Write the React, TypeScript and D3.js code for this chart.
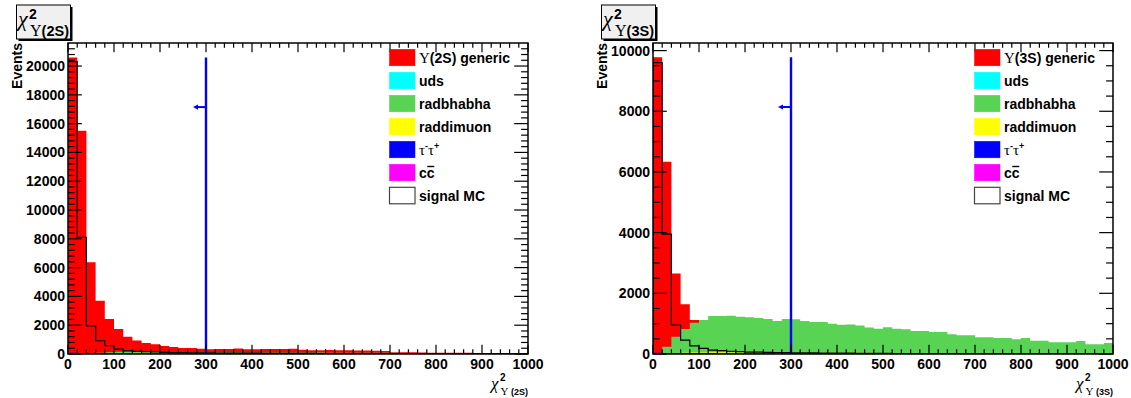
import React from 'react';
import * as d3 from 'd3';

// ---------- data ----------
const binLow = d3.range(0, 1000, 20); // 50 bins of width 20 in chi^2
const xTickLabels = ['0', '100', '200', '300', '400', '500', '600', '700', '800', '900', '1000'];
const yTicks2S = [0, 2000, 4000, 6000, 8000, 10000, 12000, 14000, 16000, 18000, 20000];
const yTicks3S = [0, 2000, 4000, 6000, 8000, 10000];

// Upsilon(2S) sample
const generic2S = [20600, 15500, 6380, 3690, 2430, 1740, 1190, 930, 770, 680, 555, 490, 420, 420, 370,
  330, 345, 345, 390, 330, 330, 345, 345, 345, 370, 300, 260, 260, 275, 255, 255, 250, 240, 230, 215,
  120, 125, 125, 100, 95, 95, 90, 85, 80, 75, 60, 55, 50, 50, 45];
const uds2S = [10, 8, 6, 4, 3, 2, 2, 1, 1, 1, 1, 1, 0, 0, 0, 0, 0, 0, 0, 0, 0, 0, 0, 0, 0,
  0, 0, 0, 0, 0, 0, 0, 0, 0, 0, 0, 0, 0, 0, 0, 0, 0, 0, 0, 0, 0, 0, 0, 0, 0];
const radbhabha2S = [0, 30, 60, 90, 120, 150, 160, 160, 150, 150, 140, 140, 130, 130, 130, 120, 120, 120, 120, 110,
  110, 110, 110, 100, 100, 100, 100, 100, 90, 90, 90, 90, 90, 85, 85, 80, 75, 75, 70, 70,
  65, 65, 60, 60, 55, 55, 55, 50, 50, 50];
const raddimuon2S = [0, 2, 4, 6, 8, 8, 9, 9, 9, 8, 8, 8, 7, 7, 7, 6, 6, 6, 6, 5, 5, 5, 5, 5, 4,
  4, 4, 4, 4, 3, 3, 3, 3, 3, 3, 2, 2, 2, 2, 2, 2, 2, 2, 1, 1, 1, 1, 1, 1, 1];
const tautau2S = [80, 70, 55, 45, 38, 32, 28, 24, 20, 18, 16, 14, 12, 11, 10, 9, 9, 8, 8, 7, 7, 6, 6, 6, 5,
  5, 5, 5, 4, 4, 4, 4, 4, 3, 3, 3, 3, 3, 3, 2, 2, 2, 2, 2, 2, 2, 1, 1, 1, 1];
const ccbar2S = [6, 5, 4, 3, 2, 2, 2, 1, 1, 1, 1, 1, 1, 0, 0, 0, 0, 0, 0, 0, 0, 0, 0, 0, 0,
  0, 0, 0, 0, 0, 0, 0, 0, 0, 0, 0, 0, 0, 0, 0, 0, 0, 0, 0, 0, 0, 0, 0, 0, 0];
const signal2S = [20300, 8100, 1950, 920, 580, 340, 230, 185, 160, 140, 110, 95, 90, 85, 80, 75, 70, 65, 60, 60,
  55, 50, 50, 45, 45, 40, 40, 35, 35, 35, 30, 30, 30, 25, 25, 25, 20, 20, 20, 20,
  15, 15, 15, 15, 15, 10, 10, 10, 10, 10];

// Upsilon(3S) sample
const generic3S = [9780, 6340, 2650, 1640, 1120, 880, 710, 590, 530, 470, 445, 410, 395, 370, 365, 340, 330, 335, 310, 300,
  290, 285, 270, 265, 250, 245, 235, 220, 215, 205, 200, 185, 180, 170, 160, 150, 145, 130, 125, 110,
  105, 95, 90, 88, 80, 72, 70, 64, 60, 52];
const uds3S = [8, 6, 5, 4, 3, 2, 2, 1, 1, 1, 1, 1, 0, 0, 0, 0, 0, 0, 0, 0, 0, 0, 0, 0, 0,
  0, 0, 0, 0, 0, 0, 0, 0, 0, 0, 0, 0, 0, 0, 0, 0, 0, 0, 0, 0, 0, 0, 0, 0, 0];
const radbhabha3S = [0, 242, 571, 824, 1033, 1120, 1252, 1252, 1263, 1230, 1208, 1186, 1153, 1087, 1153, 1142, 1087, 1054, 1054, 1000,
  966, 975, 940, 870, 834, 878, 834, 813, 758, 758, 725, 725, 648, 615, 615, 549, 549, 527, 527, 483,
  527, 439, 439, 384, 384, 384, 428, 318, 318, 362];
const raddimuon3S = [0, 10, 30, 45, 50, 52, 55, 55, 50, 52, 50, 48, 50, 46, 48, 45, 44, 45, 42, 40, 42, 40, 38, 38, 36,
  34, 22, 20, 20, 18, 18, 16, 16, 15, 15, 14, 14, 12, 12, 12, 10, 10, 10, 9, 9, 8, 8, 8, 7, 7];
const tautau3S = [40, 35, 30, 26, 24, 22, 22, 20, 20, 19, 18, 18, 17, 17, 16, 16, 15, 15, 15, 14, 14, 14, 13, 13, 13,
  25, 24, 23, 22, 22, 21, 20, 20, 19, 19, 18, 18, 17, 17, 16, 16, 15, 15, 15, 14, 14, 13, 13, 13, 12];
const ccbar3S = [5, 4, 3, 3, 2, 2, 1, 1, 1, 1, 1, 0, 0, 0, 0, 0, 0, 0, 0, 0, 0, 0, 0, 0, 0,
  0, 0, 0, 0, 0, 0, 0, 0, 0, 0, 0, 0, 0, 0, 0, 0, 0, 0, 0, 0, 0, 0, 0, 0, 0];
const signal3S = [9600, 3950, 955, 460, 265, 185, 130, 110, 90, 75, 65, 60, 55, 50, 45, 40, 38, 35, 32, 30,
  28, 26, 24, 22, 20, 18, 17, 16, 15, 14, 13, 12, 11, 10, 10, 9, 9, 8, 8, 7,
  7, 6, 6, 5, 5, 5, 4, 4, 4, 3];

const cutValue = 300;
const cutTop = [20600, 9780];
const arrowLevel = [17150, 8140];
const yMaxes = [21600, 10250];
const yMinorSteps = [400, 500];

const legendColors = ['#ff0000', '#00ffff', '#59d354', '#ffff00', '#0000ff', '#ff00ff', '#ffffff'];

// ---------- drawing ----------
const SANS = '"Liberation Sans", Arial, Helvetica, sans-serif';
const SERIF = '"Liberation Serif", "DejaVu Serif", serif';
const FW = 460;
const FH = 311;

type PanelProps = {
  idx: number;
  fx: number;
  fy: number;
  state: string;
  series: number[][];
  signal: number[];
  yTicks: number[];
};

function Panel({ idx, fx, fy, state, series, signal, yTicks }: PanelProps) {
  const yMax = yMaxes[idx];
  const xs = d3.scaleLinear().domain([0, 1000]).range([fx, fx + FW]);
  const ys = d3.scaleLinear().domain([0, yMax]).range([fy + FH, fy]);
  const clipId = `clip${idx}`;

  const pts = (vals: number[]) => {
    const p: [number, number][] = binLow.map((lo, i) => [lo, vals[i]]);
    p.push([1000, vals[vals.length - 1]]);
    return p;
  };
  const area = d3
    .area<[number, number]>()
    .x((d) => xs(d[0]))
    .y0(ys(0))
    .y1((d) => ys(Math.min(d[1], yMax)))
    .curve(d3.curveStepAfter);
  const line = d3
    .line<[number, number]>()
    .x((d) => xs(d[0]))
    .y((d) => ys(Math.min(d[1], yMax)))
    .curve(d3.curveStepAfter);
  const sigPts: [number, number][] = [[0, 0], ...pts(signal), [1000, 0]];

  const xMajor = d3.range(0, 1001, 100);
  const xMinor = d3.range(0, 1001, 20).filter((v) => v % 100 !== 0);
  const yMinor = d3.range(0, yMax, yMinorSteps[idx]).filter((v) => v % 2000 !== 0);
  const xMajLen = 9.3;
  const yMajLen = 13.8;

  const lx = fx + FW - 138.5;
  const rowTop = (i: number) => fy + 6.3 + i * 23;

  const bx = fx - 51.5;
  const by = 5;

  const xCut = xs(cutValue);
  const yArrow = ys(arrowLevel[idx]);

  return (
    <g>
      <defs>
        <clipPath id={clipId}>
          <rect x={fx} y={fy} width={FW} height={FH} />
        </clipPath>
      </defs>
      <g clipPath={`url(#${clipId})`}>
        {series.map((s, i) => (
          <path key={i} d={area(pts(s)) || ''} fill={legendColors[i]} stroke="none" />
        ))}
        <path d={line(sigPts) || ''} fill="none" stroke="#000" strokeWidth={1.2} />
      </g>

      {/* cut line and arrow */}
      <line x1={xCut} x2={xCut} y1={ys(0)} y2={ys(cutTop[idx])} stroke="#0000ff" strokeWidth={2.4} />
      <line x1={xCut} x2={xCut - 9} y1={yArrow} y2={yArrow} stroke="#0000ff" strokeWidth={2} />
      <path
        d={`M${xCut - 13},${yArrow} L${xCut - 8},${yArrow - 2.6} L${xCut - 8},${yArrow + 2.6} Z`}
        fill="#0000ff"
      />

      {/* frame */}
      <rect x={fx} y={fy} width={FW} height={FH} fill="none" stroke="#000" strokeWidth={1.5} />

      {/* x ticks bottom & top */}
      {xMajor.map((v) => (
        <g key={'xm' + v}>
          <line x1={xs(v)} x2={xs(v)} y1={fy + FH} y2={fy + FH - xMajLen} stroke="#000" strokeWidth={1.2} />
          <line x1={xs(v)} x2={xs(v)} y1={fy} y2={fy + xMajLen} stroke="#000" strokeWidth={1.2} />
        </g>
      ))}
      {xMinor.map((v) => (
        <g key={'xn' + v}>
          <line x1={xs(v)} x2={xs(v)} y1={fy + FH} y2={fy + FH - xMajLen / 2} stroke="#000" strokeWidth={1.2} />
          <line x1={xs(v)} x2={xs(v)} y1={fy} y2={fy + xMajLen / 2} stroke="#000" strokeWidth={1.2} />
        </g>
      ))}
      {/* y ticks left & right */}
      {yTicks.map((v) => (
        <g key={'ym' + v}>
          <line x1={fx} x2={fx + yMajLen} y1={ys(v)} y2={ys(v)} stroke="#000" strokeWidth={1.2} />
          <line x1={fx + FW} x2={fx + FW - yMajLen} y1={ys(v)} y2={ys(v)} stroke="#000" strokeWidth={1.2} />
        </g>
      ))}
      {yMinor.map((v) => (
        <g key={'yn' + v}>
          <line x1={fx} x2={fx + yMajLen / 2} y1={ys(v)} y2={ys(v)} stroke="#000" strokeWidth={1.2} />
          <line x1={fx + FW} x2={fx + FW - yMajLen / 2} y1={ys(v)} y2={ys(v)} stroke="#000" strokeWidth={1.2} />
        </g>
      ))}

      {/* tick labels */}
      {xMajor.map((v, i) => (
        <text key={'xl' + v} x={xs(v)} y={fy + FH + 14.5} textAnchor="middle" fontFamily={SANS} fontWeight="bold" fontSize={14}>
          {xTickLabels[i]}
        </text>
      ))}
      {yTicks.map((v) => (
        <text key={'yl' + v} x={fx - 3} y={ys(v) + 5} textAnchor="end" fontFamily={SANS} fontWeight="bold" fontSize={14}>
          {String(v)}
        </text>
      ))}

      {/* y title */}
      <text
        transform={`translate(${fx - 46.5},${fy}) rotate(-90)`}
        textAnchor="end"
        fontFamily={SANS}
        fontWeight="bold"
        fontSize={14}
      >
        Events
      </text>

      {/* x title */}
      <text x={fx + 423} y={fy + FH + 35} fontFamily={SERIF} fontStyle="italic" fontSize={17}>χ</text>
      <text x={fx + 432} y={fy + FH + 27} fontFamily={SANS} fontWeight="bold" fontSize={10}>2</text>
      <text x={fx + FW} y={fy + FH + 40.5} textAnchor="end">
        <tspan fontFamily={SERIF} fontSize={11}>Υ</tspan>
        <tspan fontFamily={SANS} fontWeight="bold" fontSize={9}> ({state})</tspan>
      </text>

      {/* title box */}
      <rect x={bx + 2} y={by + 2} width={54} height={34} fill="#000" />
      <rect x={bx} y={by} width={54} height={34} fill="#f0f0f0" stroke="#000" strokeWidth={1} />
      <text x={bx + 1.5} y={by + 20.5} fontFamily={SERIF} fontStyle="italic" fontSize={22}>χ</text>
      <text x={bx + 12.5} y={by + 14} fontFamily={SANS} fontWeight="bold" fontSize={14}>2</text>
      <text x={bx + 13.5} y={by + 31}>
        <tspan fontFamily={SERIF} fontSize={16}>Υ</tspan>
        <tspan fontFamily={SANS} fontWeight="bold" fontSize={14.5}>({state})</tspan>
      </text>

      {/* legend */}
      {legendColors.map((c, i) => (
        <rect
          key={'lg' + i}
          x={lx}
          y={rowTop(i)}
          width={25.5}
          height={16.5}
          fill={c}
          stroke={i === 6 ? '#444' : c}
          strokeWidth={i === 6 ? 1.2 : 0.5}
        />
      ))}
      <text x={lx + 29.5} y={rowTop(0) + 13.4}>
        <tspan fontFamily={SERIF} fontSize={15}>Υ</tspan>
        <tspan fontFamily={SANS} fontWeight="bold" fontSize={14}>({state}) generic</tspan>
      </text>
      <text x={lx + 29.5} y={rowTop(1) + 13.4} fontFamily={SANS} fontWeight="bold" fontSize={14}>uds</text>
      <text x={lx + 29.5} y={rowTop(2) + 13.4} fontFamily={SANS} fontWeight="bold" fontSize={14}>radbhabha</text>
      <text x={lx + 29.5} y={rowTop(3) + 13.4} fontFamily={SANS} fontWeight="bold" fontSize={14}>raddimuon</text>
      <text x={lx + 29.5} y={rowTop(4) + 13.4}>
        <tspan fontFamily={SERIF} fontSize={15}>τ</tspan>
        <tspan fontFamily={SANS} fontWeight="bold" fontSize={9} dy={-6}>-</tspan>
        <tspan fontFamily={SERIF} fontSize={15} dy={6}>τ</tspan>
        <tspan fontFamily={SANS} fontWeight="bold" fontSize={9} dy={-6}>+</tspan>
      </text>
      <text x={lx + 29.5} y={rowTop(5) + 13.4} fontFamily={SANS} fontWeight="bold" fontSize={14}>cc</text>
      <line
        x1={lx + 29.5 + 8.3}
        x2={lx + 29.5 + 15.3}
        y1={rowTop(5) + 2.2}
        y2={rowTop(5) + 2.2}
        stroke="#000"
        strokeWidth={1.4}
      />
      <text x={lx + 29.5} y={rowTop(6) + 13.4} fontFamily={SANS} fontWeight="bold" fontSize={14}>signal MC</text>
    </g>
  );
}

export default function App() {
  return (
    <svg
      width={1131}
      height={398}
      style={{ position: 'absolute', left: 0, top: 0, background: '#fff' }}
    >
      <rect x={0} y={0} width={1131} height={398} fill="#fff" />
      <Panel
        idx={0}
        fx={68}
        fy={43}
        state="2S"
        series={[generic2S, uds2S, radbhabha2S, raddimuon2S, tautau2S, ccbar2S]}
        signal={signal2S}
        yTicks={yTicks2S}
      />
      <Panel
        idx={1}
        fx={653}
        fy={43}
        state="3S"
        series={[generic3S, uds3S, radbhabha3S, raddimuon3S, tautau3S, ccbar3S]}
        signal={signal3S}
        yTicks={yTicks3S}
      />
    </svg>
  );
}
